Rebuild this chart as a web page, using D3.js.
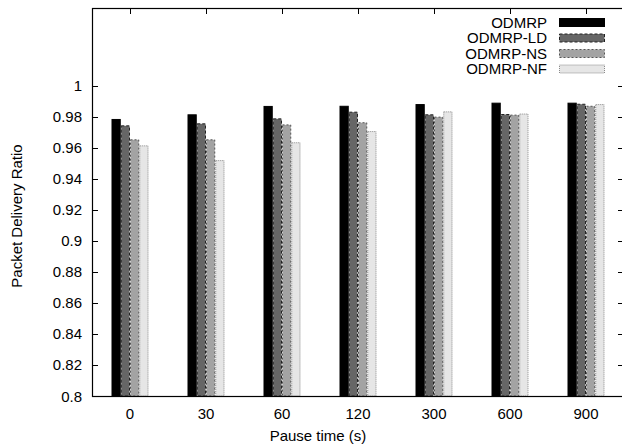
<!DOCTYPE html>
<html>
<head>
<meta charset="utf-8">
<script src="https://cdn.jsdelivr.net/npm/d3@7"></script>
<style>
  body { margin: 0; background: #fff; }
  text { font-family: "Liberation Sans", Arial, sans-serif; font-size: 15px; fill: #000; }
</style>
</head>
<body>
<div id="chart"></div>
<script>
// data
const categories = ['0', '30', '60', '120', '300', '600', '900'];
const series = ['ODMRP', 'ODMRP-LD', 'ODMRP-NS', 'ODMRP-NF'];
const odmrp   = [0.9785, 0.9815, 0.9869, 0.9870, 0.9881, 0.9890, 0.9890];
const odmrpLD = [0.9744, 0.9757, 0.9789, 0.9832, 0.9815, 0.9817, 0.9883];
const odmrpNS = [0.9654, 0.9654, 0.9750, 0.9764, 0.9800, 0.9813, 0.9870];
const odmrpNF = [0.9615, 0.9520, 0.9635, 0.9707, 0.9834, 0.9820, 0.9881];
const yTicks = [0.8, 0.82, 0.84, 0.86, 0.88, 0.9, 0.92, 0.94, 0.96, 0.98, 1];

const values = [odmrp, odmrpLD, odmrpNS, odmrpNF];

// styles per series
const styles = [
    { fill: '#000000', stroke: '#000000', dash: null },
    { fill: '#666666', stroke: '#222222', dash: '3,2' },
    { fill: '#a3a3a3', stroke: '#555555', dash: '2,2' },
    { fill: '#e6e6e6', stroke: '#8a8a8a', dash: '1,1' }
];

// size
const width = 622, height = 447;
const pLeft = 92, pRight = 624, pTop = 8, pBottom = 396;

const svg = d3.select('#chart')
    .append('svg')
    .attr('width', width)
    .attr('height', height);

// scales
const x0 = d3.scaleBand()
    .domain(categories)
    .range([pLeft, pRight])
    .padding(0);

const groupW = 37;
const x1 = d3.scaleBand()
    .domain(series)
    .range([0, groupW]);

const y = d3.scaleLinear()
    .domain([0.8, 1.05])
    .range([pBottom, pTop]);

// bars
const groups = svg.selectAll('.group')
    .data(categories)
    .enter()
    .append('g')
    .attr('class', 'group')
    .attr('transform', d => `translate(${x0(d) + (x0.bandwidth() - groupW) / 2},0)`);

groups.selectAll('rect')
    .data((c, ci) => series.map((s, si) => ({ s: s, si: si, v: values[si][ci] })))
    .enter()
    .append('rect')
    .attr('x', d => x1(d.s) + 0.5)
    .attr('y', d => y(d.v) + 0.5)
    .attr('width', x1.bandwidth() - 1)
    .attr('height', d => pBottom - y(d.v) - 0.5)
    .attr('fill', d => styles[d.si].fill)
    .attr('stroke', d => styles[d.si].stroke)
    .attr('stroke-dasharray', d => styles[d.si].dash)
    .attr('stroke-width', 1);

// axes
const axisG = svg.append('g');

// left axis ticks + labels
axisG.selectAll('.ytick')
    .data(yTicks)
    .enter()
    .append('line')
    .attr('x1', pLeft).attr('x2', pLeft + 6)
    .attr('y1', d => Math.round(y(d)) + 0.5).attr('y2', d => Math.round(y(d)) + 0.5)
    .attr('stroke', '#000');

// right mirror ticks
axisG.selectAll('.ytickr')
    .data(yTicks)
    .enter()
    .append('line')
    .attr('x1', pRight - 6).attr('x2', pRight)
    .attr('y1', d => Math.round(y(d)) + 0.5).attr('y2', d => Math.round(y(d)) + 0.5)
    .attr('stroke', '#000');

axisG.selectAll('.ylabel')
    .data(yTicks)
    .enter()
    .append('text')
    .attr('x', 82)
    .attr('y', d => y(d) + 5.5)
    .attr('text-anchor', 'end')
    .text(d => d3.format('')(d));

// x ticks (top mirrored)
axisG.selectAll('.xtickt')
    .data(categories)
    .enter()
    .append('line')
    .attr('x1', d => Math.round(x0(d) + x0.bandwidth() / 2) + 0.5)
    .attr('x2', d => Math.round(x0(d) + x0.bandwidth() / 2) + 0.5)
    .attr('y1', pTop).attr('y2', pTop + 6)
    .attr('stroke', '#000');

axisG.selectAll('.xlabel')
    .data(categories)
    .enter()
    .append('text')
    .attr('x', d => x0(d) + x0.bandwidth() / 2)
    .attr('y', 419)
    .attr('text-anchor', 'middle')
    .text(d => d);

// border
axisG.append('rect')
    .attr('x', pLeft + 0.5)
    .attr('y', pTop + 0.5)
    .attr('width', pRight - pLeft)
    .attr('height', pBottom - pTop)
    .attr('fill', 'none')
    .attr('stroke', '#000')
    .attr('stroke-width', 1.2);

// axis titles
svg.append('text')
    .attr('x', 318)
    .attr('y', 441)
    .attr('text-anchor', 'middle')
    .text('Pause time (s)');

svg.append('text')
    .attr('transform', `translate(22,${(pTop + pBottom) / 2 + 14}) rotate(-90)`)
    .attr('text-anchor', 'middle')
    .text('Packet Delivery Ratio');

// legend
const legend = svg.selectAll('.legend')
    .data(series)
    .enter()
    .append('g')
    .attr('class', 'legend')
    .attr('transform', (d, i) => `translate(0,${22 + i * 15.5})`);

legend.append('text')
    .attr('x', 547)
    .attr('y', 5.5)
    .attr('text-anchor', 'end')
    .text(d => d);

legend.append('rect')
    .attr('x', 559.5)
    .attr('y', -3.5)
    .attr('width', 45)
    .attr('height', 8)
    .attr('fill', (d, i) => styles[i].fill)
    .attr('stroke', (d, i) => styles[i].stroke)
    .attr('stroke-dasharray', (d, i) => styles[i].dash);
</script>
</body>
</html>
